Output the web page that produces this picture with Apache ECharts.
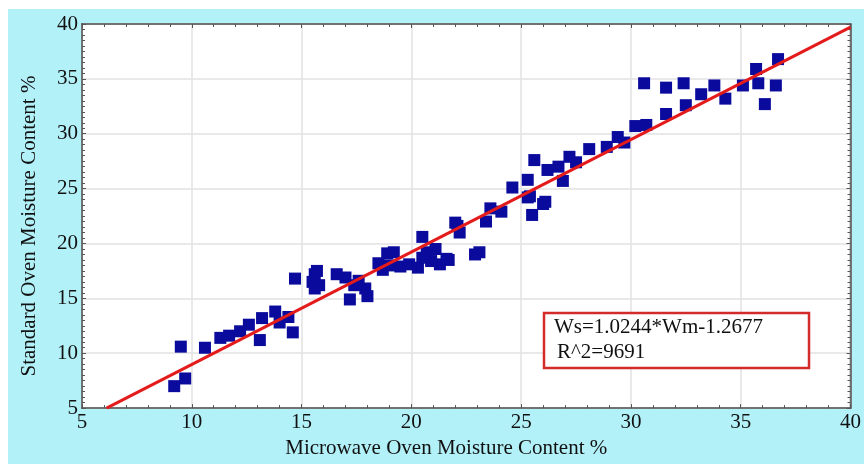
<!DOCTYPE html>
<html>
<head>
<meta charset="utf-8">
<script src="https://cdn.jsdelivr.net/npm/echarts@6/dist/echarts.min.js"></script>
<style>
  html, body { margin: 0; padding: 0; background: #ffffff; }
  #chart { width: 864px; height: 464px; }
</style>
</head>
<body>
<div id="chart"></div>
<script>
// Moisture content pairs: [microwave oven %, standard oven %]
const samples = [
  [9.2, 7.0], [9.7, 7.7], [9.5, 10.6], [10.6, 10.5], [11.3, 11.4], [11.7, 11.6],
  [12.2, 12.0], [12.6, 12.6], [13.2, 13.2], [13.1, 11.2], [13.8, 13.8], [14.0, 12.8],
  [14.4, 13.3], [14.6, 11.9], [14.7, 16.8], [15.5, 16.5], [15.7, 17.5], [15.6, 15.9],
  [15.8, 16.2], [15.6, 17.2], [16.6, 17.2], [17.0, 16.9], [17.4, 16.2], [17.9, 15.9],
  [17.2, 14.9], [18.0, 15.2], [17.6, 16.6], [18.5, 18.2], [18.9, 19.1], [19.2, 19.2],
  [18.7, 17.6], [19.5, 17.9], [19.9, 18.1], [20.3, 17.8], [20.5, 20.6], [20.7, 19.2],
  [21.1, 19.5], [21.3, 18.1], [21.7, 18.5], [20.9, 18.4], [20.5, 18.7], [21.6, 18.6],
  [19.0, 18.0], [22.0, 21.9], [22.1, 21.6], [22.2, 21.0], [23.1, 19.2], [22.9, 19.0],
  [23.4, 22.0], [23.6, 23.2], [24.1, 22.9], [24.6, 25.1], [25.3, 25.8], [25.6, 27.6],
  [25.3, 24.2], [26.0, 23.6], [25.5, 22.6], [26.1, 23.8], [25.4, 24.3], [26.2, 26.7],
  [26.9, 25.7], [26.7, 27.0], [27.2, 27.9], [27.5, 27.4], [28.1, 28.6], [28.9, 28.8],
  [29.4, 29.7], [29.7, 29.2], [30.2, 30.7], [30.7, 30.8], [30.6, 34.6], [31.6, 34.2],
  [32.4, 34.6], [31.6, 31.8], [32.5, 32.6], [33.2, 33.6], [33.8, 34.4], [34.3, 33.2],
  [35.1, 34.4], [35.7, 35.9], [35.8, 34.6], [36.6, 34.4], [36.1, 32.7], [36.7, 36.8]
];

// Regression line Ws = SLOPE * Wm + INTERCEPT
const SLOPE = 1.0244;
const INTERCEPT = -1.2677;
const R2_TEXT = '9691';

const axisMin = 5;
const axisMax = 40;
const axisStep = 5;

const fitStartX = (axisMin - INTERCEPT) / SLOPE;
const fitLine = [
  [fitStartX, SLOPE * fitStartX + INTERCEPT],
  [axisMax, SLOPE * axisMax + INTERCEPT]
];

const serif = '"Liberation Serif", "DejaVu Serif", serif';
const frameColor = '#555555';
const textColor = '#111111';

function valueAxis(opts) {
  return Object.assign({
    type: 'value',
    min: axisMin,
    max: axisMax,
    interval: axisStep,
    axisLine: { show: true, lineStyle: { color: frameColor, width: 1.5 } },
    axisTick: { show: true, inside: true, length: 4, lineStyle: { color: frameColor } },
    minorTick: { show: true, splitNumber: 5, length: 3, lineStyle: { color: frameColor } },
    splitLine: { show: false },
    axisLabel: { show: false }
  }, opts);
}

const chart = echarts.init(document.getElementById('chart'), null, { renderer: 'canvas' });

chart.setOption({
  animation: false,
  backgroundColor: '#ffffff',
  graphic: [
    {
      type: 'rect',
      z: -10,
      silent: true,
      shape: { x: 8, y: 9, width: 856, height: 455 },
      style: { fill: '#b3f1f9' }
    },
    // Regression equation box
    {
      type: 'rect',
      z: 100,
      silent: true,
      shape: { x: 544, y: 313, width: 265, height: 55 },
      style: { fill: '#ffffff', stroke: '#d42a2a', lineWidth: 2.5 }
    },
    {
      type: 'text',
      z: 101,
      silent: true,
      x: 554,
      y: 317,
      style: {
        text: 'Ws=' + SLOPE.toFixed(4) + '*Wm-' + (-INTERCEPT).toFixed(4),
        font: '21px ' + serif,
        fill: textColor
      }
    },
    {
      type: 'text',
      z: 101,
      silent: true,
      x: 557,
      y: 342,
      style: {
        text: 'R^2=' + R2_TEXT,
        font: '21px ' + serif,
        fill: textColor
      }
    }
  ],
  grid: {
    left: 82,
    right: 6,
    top: 24,
    bottom: 42,
    show: true,
    backgroundColor: '#ffffff',
    borderColor: frameColor,
    borderWidth: 1.5
  },
  xAxis: [
    valueAxis({
      position: 'bottom',
      name: 'Microwave Oven Moisture Content %',
      nameLocation: 'middle',
      nameGap: 20,
      nameTextStyle: { fontFamily: serif, fontSize: 21, color: textColor, padding: [0, 40, 0, 0] },
      splitLine: { show: true, lineStyle: { color: '#e2e2e2', width: 1.5 } },
      axisLabel: { show: true, fontFamily: serif, fontSize: 21, color: textColor, margin: 4 }
    }),
    valueAxis({ position: 'top' })
  ],
  yAxis: [
    valueAxis({
      position: 'left',
      name: 'Standard Oven Moisture Content %',
      nameLocation: 'middle',
      nameGap: 42,
      nameTextStyle: { fontFamily: serif, fontSize: 21, color: textColor, padding: [0, 20, 0, 0] },
      minorTick: { show: true, splitNumber: 10, length: 3, lineStyle: { color: frameColor } },
      splitLine: { show: true, lineStyle: { color: '#e2e2e2', width: 1.5 } },
      axisLabel: { show: true, fontFamily: serif, fontSize: 21, color: textColor, margin: 4 }
    }),
    valueAxis({
      position: 'right',
      minorTick: { show: true, splitNumber: 10, length: 3, lineStyle: { color: frameColor } }
    })
  ],
  series: [
    {
      name: 'Samples',
      type: 'scatter',
      xAxisIndex: 0,
      yAxisIndex: 0,
      symbol: 'rect',
      symbolSize: 12,
      itemStyle: { color: '#0a0a9c', opacity: 1 },
      data: samples,
      z: 3
    },
    {
      name: 'Fit',
      type: 'line',
      xAxisIndex: 0,
      yAxisIndex: 0,
      data: fitLine,
      showSymbol: false,
      symbol: 'none',
      lineStyle: { color: '#e41b1b', width: 3 },
      z: 4
    }
  ]
});
</script>
</body>
</html>
